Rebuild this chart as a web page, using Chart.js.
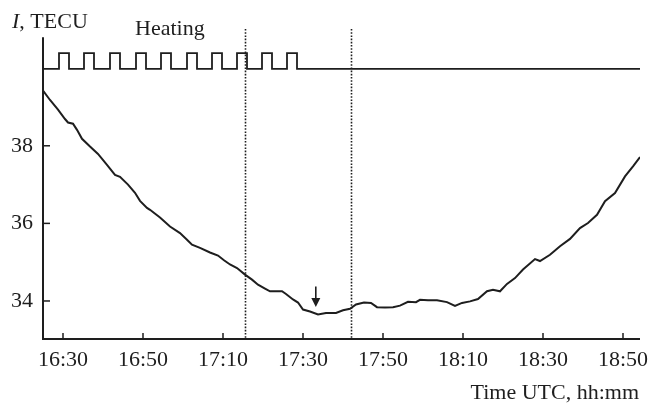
<!DOCTYPE html>
<html>
<head>
<meta charset="utf-8">
<script src="https://cdn.jsdelivr.net/npm/chart.js@4/dist/chart.umd.min.js"></script>
<style>
html,body{margin:0;padding:0;background:#fff;}
#wrap{width:652px;height:403px;}
</style>
</head>
<body>
<div id="wrap"><canvas id="c" width="652" height="403"></canvas></div>
<script>
// Time in minutes since midnight (UTC)
const curveTime = [985.0,986.75,988.75,990.5,991.25,992.5,993.5,994.75,996.75,998.75,1001,1003,1004.25,1006.25,1008,1009.25,1011,1011.75,1014.25,1016.75,1019.25,1021,1022.25,1024.25,1026.75,1028.75,1030.25,1031.75,1033.5,1035.5,1037.25,1038.75,1040.5,1041.75,1044.75,1045.75,1047.5,1048.75,1050,1051.75,1053.75,1055.75,1058.25,1060,1061.75,1063.25,1065.25,1067,1068.5,1070.5,1072.5,1074.25,1076.25,1078.25,1079.25,1081.25,1083.5,1086,1088,1089.75,1091.75,1093.75,1096,1097.5,1099.25,1101,1103,1105,1108,1109.25,1111.75,1114.25,1116.75,1119.25,1121.25,1123.5,1125.5,1128,1130.5,1132.5,1134.25];
const curveTEC = [39.42,39.18,38.93,38.69,38.60,38.57,38.41,38.18,37.98,37.79,37.51,37.25,37.20,37.00,36.79,36.58,36.40,36.35,36.15,35.92,35.75,35.58,35.45,35.37,35.25,35.17,35.05,34.94,34.85,34.68,34.55,34.42,34.32,34.25,34.25,34.18,34.04,33.96,33.78,33.73,33.65,33.69,33.69,33.76,33.80,33.91,33.96,33.95,33.84,33.83,33.84,33.88,33.98,33.97,34.03,34.02,34.02,33.97,33.87,33.95,33.99,34.05,34.25,34.29,34.25,34.44,34.59,34.81,35.08,35.03,35.19,35.41,35.60,35.88,36.01,36.22,36.57,36.78,37.21,37.47,37.71];

// Heating pulses (on / off times, minutes since midnight)
const heatStart = [989.0,995.25,1001.75,1008.25,1014.5,1021.0,1027.25,1033.5,1039.75,1046.0];
const heatEnd   = [991.5,997.75,1004.25,1010.75,1017.0,1023.5,1029.75,1036.0,1042.25,1048.5];
const heatLevels = [39.98, 40.39]; // off, on (drawn on TEC axis as indicator)

// Vertical dotted markers and arrow
const markerTimes = [1035.6, 1061.9];
const arrowTime = 1053.2;
const arrowTEC = [34.37, 33.845];

// Axes
const xRange = [985, 1134.25];
const yRange = [33.02, 41.01];
const yAxisTop = 40.8;
const xTicks = [990,1010,1030,1050,1070,1090,1110,1130];
const xTickLabels = ['16:30','16:50','17:10','17:30','17:50','18:10','18:30','18:50'];
const yTicks = [34,36,38];
const yTickLabels = ['34','36','38'];

const curveData = curveTime.map((t,i)=>({x:t,y:curveTEC[i]}));
const heatData = [{x:xRange[0], y:heatLevels[0]}];
heatStart.forEach((s,i)=>{
  heatData.push({x:s,y:heatLevels[0]},{x:s,y:heatLevels[1]},{x:heatEnd[i],y:heatLevels[1]},{x:heatEnd[i],y:heatLevels[0]});
});
heatData.push({x:xRange[1], y:heatLevels[0]});

const FONT = "'Liberation Serif','Times New Roman',serif";
const INK = '#1e1e1e';

const decor = {
  id:'decor',
  afterDatasetsDraw(chart){
    const ctx = chart.ctx, xs = chart.scales.x, ys = chart.scales.y, ca = chart.chartArea;
    ctx.save();
    ctx.strokeStyle = INK; ctx.fillStyle = INK;
    // dotted markers
    ctx.lineWidth = 1.6; ctx.setLineDash([1.6,1.6]);
    markerTimes.forEach(t=>{
      const px = Math.round(xs.getPixelForValue(t))+0.5;
      ctx.beginPath(); ctx.moveTo(px, ca.top); ctx.lineTo(px, ca.bottom); ctx.stroke();
    });
    ctx.setLineDash([]);
    // axes lines
    ctx.lineWidth = 2;
    const x0 = xs.getPixelForValue(xRange[0]), yb = ys.getPixelForValue(yRange[0]);
    ctx.beginPath();
    ctx.moveTo(x0, ys.getPixelForValue(yAxisTop)); ctx.lineTo(x0, yb);
    ctx.lineTo(xs.getPixelForValue(xRange[1]), yb);
    ctx.stroke();
    // inward ticks
    ctx.lineWidth = 1.5;
    xTicks.forEach(t=>{
      const px = xs.getPixelForValue(t);
      ctx.beginPath(); ctx.moveTo(px, yb); ctx.lineTo(px, yb-6); ctx.stroke();
    });
    yTicks.forEach(v=>{
      const py = ys.getPixelForValue(v);
      ctx.beginPath(); ctx.moveTo(x0, py); ctx.lineTo(x0+7, py); ctx.stroke();
    });
    // arrow
    const ax = xs.getPixelForValue(arrowTime);
    const ay1 = ys.getPixelForValue(arrowTEC[0]), ay2 = ys.getPixelForValue(arrowTEC[1]);
    ctx.lineWidth = 1.6;
    ctx.beginPath(); ctx.moveTo(ax, ay1); ctx.lineTo(ax, ay2-8); ctx.stroke();
    ctx.beginPath(); ctx.moveTo(ax-4.5, ay2-9); ctx.lineTo(ax+4.5, ay2-9); ctx.lineTo(ax, ay2); ctx.closePath(); ctx.fill();
    // texts
    ctx.textBaseline = 'alphabetic';
    ctx.font = 'italic 22px ' + FONT;
    ctx.textAlign = 'left';
    ctx.fillText('I', 12, 28);
    const w = ctx.measureText('I').width;
    ctx.font = '22px ' + FONT;
    ctx.fillText(', TECU', 12 + w, 28);
    ctx.fillText('Heating', 135, 35);
    ctx.textAlign = 'right';
    ctx.fillText('Time UTC, hh:mm', 639, 399);
    ctx.restore();
  }
};

new Chart(document.getElementById('c'), {
  type:'line',
  data:{datasets:[
    {data:curveData, borderColor:INK, borderWidth:2, pointRadius:0, tension:0, fill:false},
    {data:heatData, borderColor:INK, borderWidth:1.8, pointRadius:0, tension:0, fill:false}
  ]},
  options:{
    responsive:false, animation:false, events:[],
    layout:{padding:{top:29,right:12,left:0,bottom:0}},
    plugins:{legend:{display:false}, tooltip:{enabled:false}},
    scales:{
      x:{type:'linear', min:xRange[0], max:xRange[1],
        grid:{display:false, drawTicks:false}, border:{display:false},
        afterBuildTicks(s){ s.ticks = xTicks.map(v=>({value:v})); },
        afterFit(s){ s.height = 64; s.paddingLeft = 0; s.paddingRight = 0; },
        ticks:{padding:8, color:INK, font:{family:FONT, size:22}, maxRotation:0, autoSkip:false,
          callback:(v)=>{ const i = xTicks.indexOf(v); return i>=0 ? xTickLabels[i] : ''; }}
      },
      y:{type:'linear', min:yRange[0], max:yRange[1],
        grid:{display:false, drawTicks:false}, border:{display:false},
        afterBuildTicks(s){ s.ticks = yTicks.map(v=>({value:v})); },
        afterFit(s){ s.width = 43; s.paddingTop = 0; s.paddingBottom = 0; },
        ticks:{padding:10, color:INK, font:{family:FONT, size:22},
          callback:(v)=>{ const i = yTicks.indexOf(v); return i>=0 ? yTickLabels[i] : ''; }}
      }
    }
  },
  plugins:[decor]
});
</script>
</body>
</html>
